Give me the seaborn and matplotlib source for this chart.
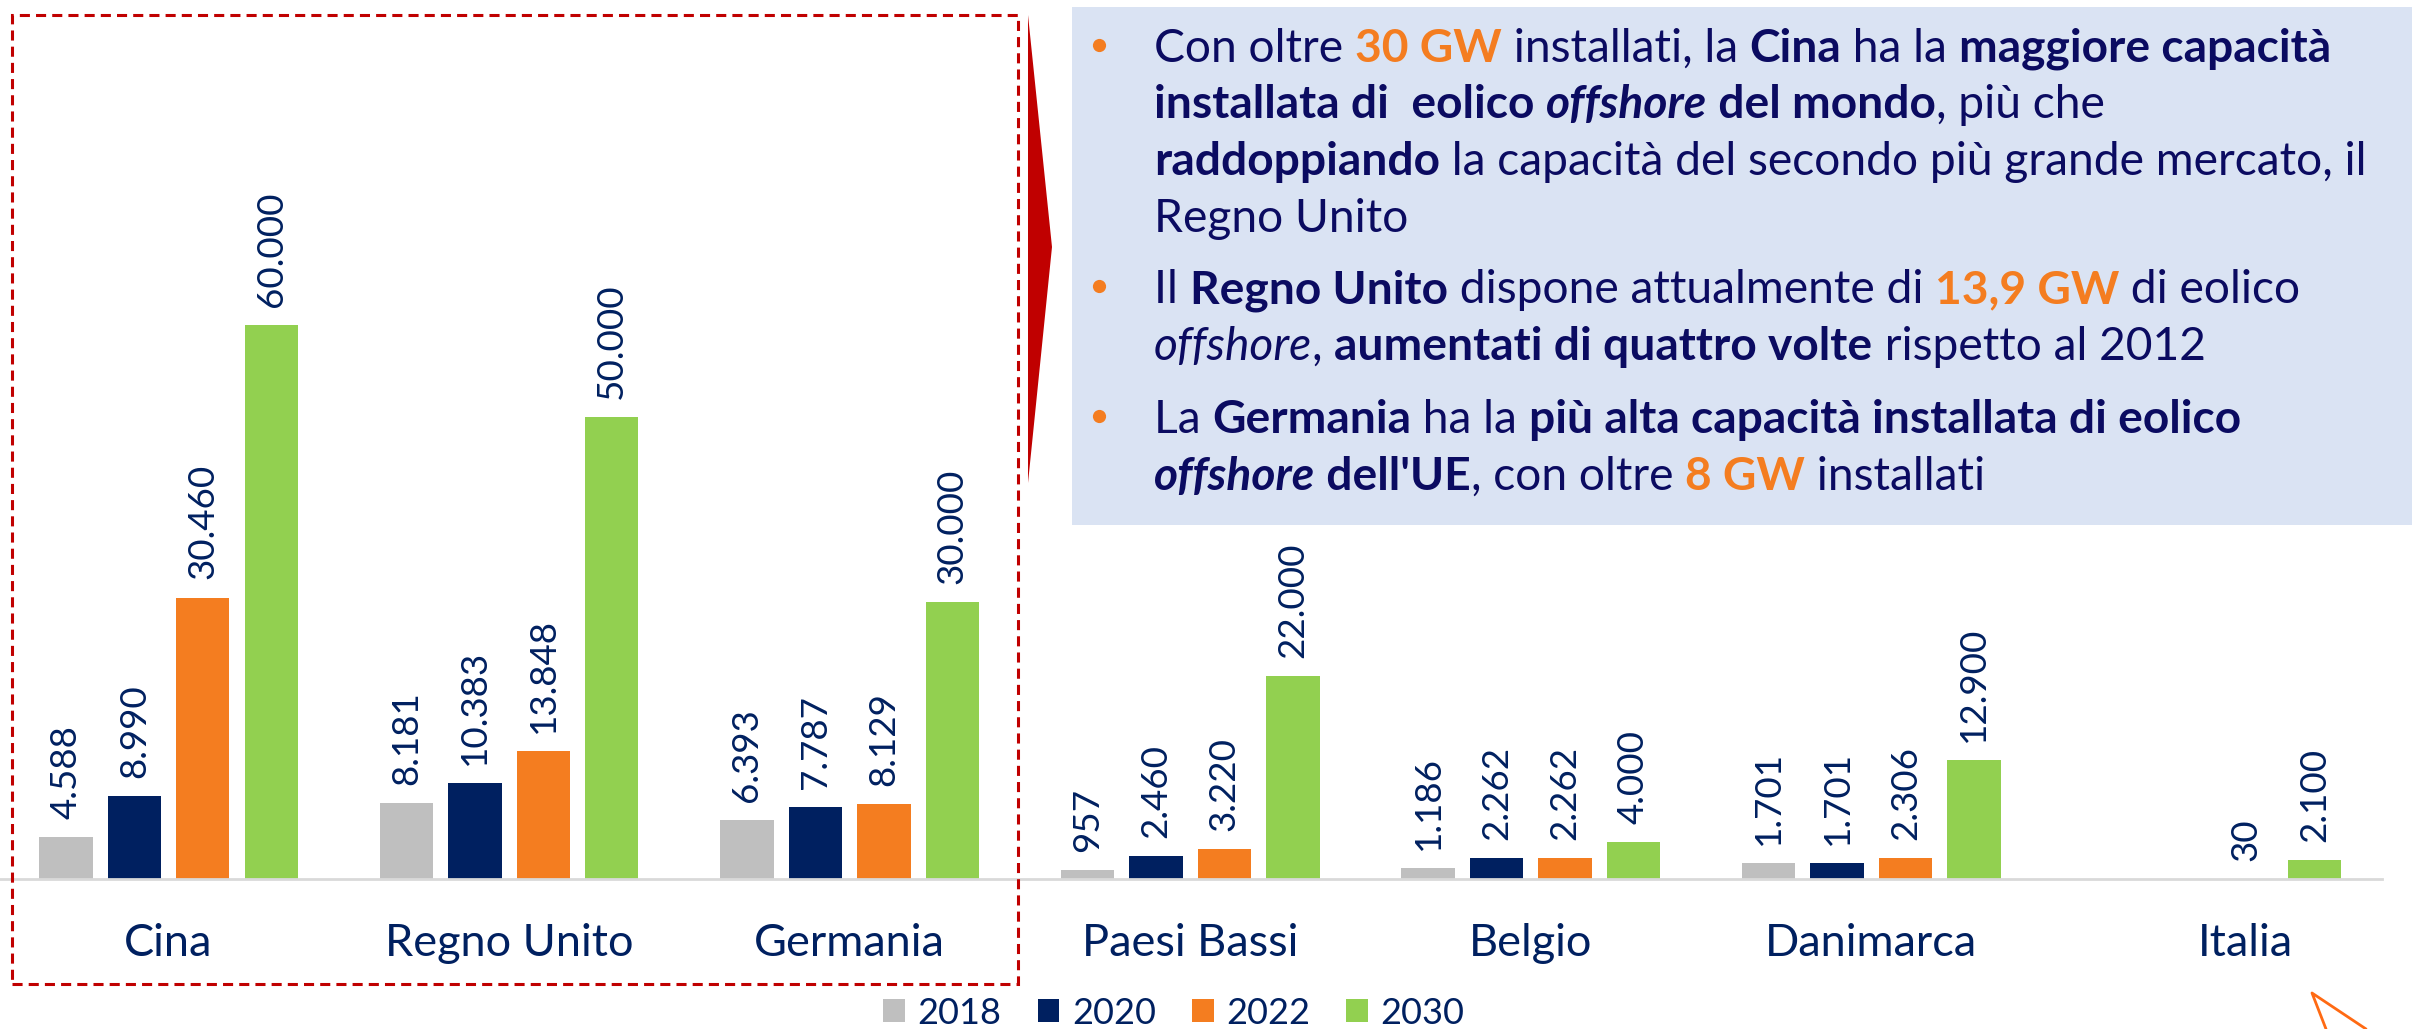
import numpy as np
import pandas as pd
import matplotlib
matplotlib.use("Agg")
import matplotlib.pyplot as plt
import seaborn as sns
from matplotlib.patches import Rectangle, Polygon, Patch
from matplotlib.lines import Line2D

# ---------------- data ----------------
paesi = ["Cina", "Regno Unito", "Germania", "Paesi Bassi", "Belgio", "Danimarca", "Italia"]
anni = ["2018", "2020", "2022", "2030"]
v2018 = [4588, 8181, 6393, 957, 1186, 1701, np.nan]
v2020 = [8990, 10383, 7787, 2460, 2262, 1701, np.nan]
v2022 = [30460, 13848, 8129, 3220, 2262, 2306, 30]
v2030 = [60000, 50000, 30000, 22000, 4000, 12900, 2100]
colori = {"2018": "#BFBFBF", "2020": "#002060", "2022": "#F47D20", "2030": "#92D050"}

rows = []
for anno, vals in zip(anni, [v2018, v2020, v2022, v2030]):
    for p, v in zip(paesi, vals):
        rows.append({"Paese": p, "Anno": anno, "Capacità": v})
df = pd.DataFrame(rows).dropna()

NAVY = "#002060"
TXT = "#0B0B61"
ORANGE = "#F47D20"

sns.set_theme(style="white")
plt.rcParams["font.family"] = ["Lato", "DejaVu Sans"]

W, H = 2412, 1029
fig = plt.figure(figsize=(W / 100, H / 100), dpi=100)


def fx(x):
    return x / W


def fy(y):
    return 1 - y / H


base_y = 879
ax_right = 2382
ax = fig.add_axes([0, fy(base_y), ax_right / W, base_y / H])
ax.set_facecolor("none")

sns.barplot(data=df, x="Paese", y="Capacità", hue="Anno", order=paesi,
            hue_order=anni, palette=colori, saturation=1, width=0.804,
            gap=0.22, linewidth=0, ax=ax, legend=False, errorbar=None)

ax.set_xlim(-0.495, 6.5)
ax.set_ylim(0, base_y / 9.24 * 1000)

for c in ax.containers:
    ax.bar_label(c, fmt=lambda v: f"{v:,.0f}".replace(",", "."), rotation=90,
                 padding=13, fontsize=26.5, color=NAVY)

sns.despine(ax=ax, left=True)
ax.spines["bottom"].set_color("#D9D9D9")
ax.spines["bottom"].set_linewidth(2)
ax.set_yticks([])
ax.set_xticks([0, 1, 2, 3, 4, 5, 6.1], paesi)
ax.set_xlabel("")
ax.set_ylabel("")
ax.tick_params(axis="x", length=0, labelsize=32.5, labelcolor=NAVY, pad=32)

# dashed red frame
fig.add_artist(Rectangle((fx(12), fy(984)), fx(1006), (984 - 15) / H, fill=False,
                         ec="#C00000", lw=2.2, linestyle=(0, (3.3, 2)),
                         transform=fig.transFigure))
# red wedge arrow
fig.add_artist(Polygon([(fx(1028), fy(15)), (fx(1052), fy(247)), (fx(1028), fy(483))],
                       closed=True, fc="#C00000", ec="none", transform=fig.transFigure))
# text box
fig.add_artist(Rectangle((fx(1072), fy(525)), fx(W - 1072), (525 - 7) / H,
                         fc="#DAE3F3", ec="none", transform=fig.transFigure))

renderer = fig.canvas.get_renderer()
STY = {
    "n": dict(weight="normal", style="normal", color=TXT),
    "b": dict(weight="bold", style="normal", color=TXT),
    "i": dict(weight="normal", style="italic", color=TXT),
    "bi": dict(weight="bold", style="italic", color=TXT),
    "bo": dict(weight="bold", style="normal", color=ORANGE),
}


def advance(s, fs, st):
    kw = STY[st]
    t1 = fig.text(0, 0, "|" + s + "|", fontsize=fs, **kw)
    t2 = fig.text(0, 0, "||", fontsize=fs, **kw)
    w = t1.get_window_extent(renderer).width - t2.get_window_extent(renderer).width
    t1.remove()
    t2.remove()
    return w


lines = [
    (62, [("Con oltre ", "n"), ("30 GW", "bo"), (" installati, la ", "n"), ("Cina", "b"),
          (" ha la ", "n"), ("maggiore capacità", "b")]),
    (118, [("installata di  eolico ", "b"), ("offshore", "bi"), (" del mondo", "b"),
           (", più che", "n")]),
    (175, [("raddoppiando", "b"), (" la capacità del secondo più grande mercato, il", "n")]),
    (232, [("Regno Unito", "n")]),
    (303, [("Il ", "n"), ("Regno Unito", "b"), (" dispone attualmente di ", "n"),
           ("13,9 GW", "bo"), (" di eolico", "n")]),
    (360, [("offshore", "i"), (", ", "n"), ("aumentati di quattro volte", "b"),
           (" rispetto al 2012", "n")]),
    (433, [("La ", "n"), ("Germania", "b"), (" ha la ", "n"),
           ("più alta capacità installata di eolico", "b")]),
    (490, [("offshore", "bi"), (" dell'UE", "b"), (", con oltre ", "n"), ("8 GW", "bo"),
           (" installati", "n")]),
]

# fit font size so that line 3 spans the same width as in the reference
fs0 = 30
w3 = sum(advance(s, fs0, st) for s, st in lines[2][1])
FS = fs0 * 1210 / w3

x_start = 1154
for yb, runs in lines:
    x = x_start
    for s, st in runs:
        fig.text(fx(x), fy(yb), s, fontsize=FS, va="baseline", ha="left", **STY[st])
        x += advance(s, FS, st)

for yb in (62, 303, 433):
    fig.add_artist(Line2D([fx(1099)], [fy(yb - 17)], marker="o", ms=9.5, color=ORANGE,
                          mec="none", transform=fig.transFigure))

# legend
handles = [Patch(facecolor=colori[a], edgecolor="none") for a in anni]
fig.legend(handles, anni, loc="center", bbox_to_anchor=(fx(1174), fy(1013)), ncol=4,
           frameon=False, fontsize=26, handlelength=0.6, handleheight=0.6,
           handletextpad=0.35, columnspacing=1.0, labelcolor=NAVY, borderpad=0)

# orange decoration bottom-right
fig.add_artist(Line2D([fx(2326), fx(2312), fx(2366)], [fy(1029), fy(993), fy(1029)],
                      color="#FF6A13", lw=2, transform=fig.transFigure))

fig.savefig("out.png", dpi=100)
